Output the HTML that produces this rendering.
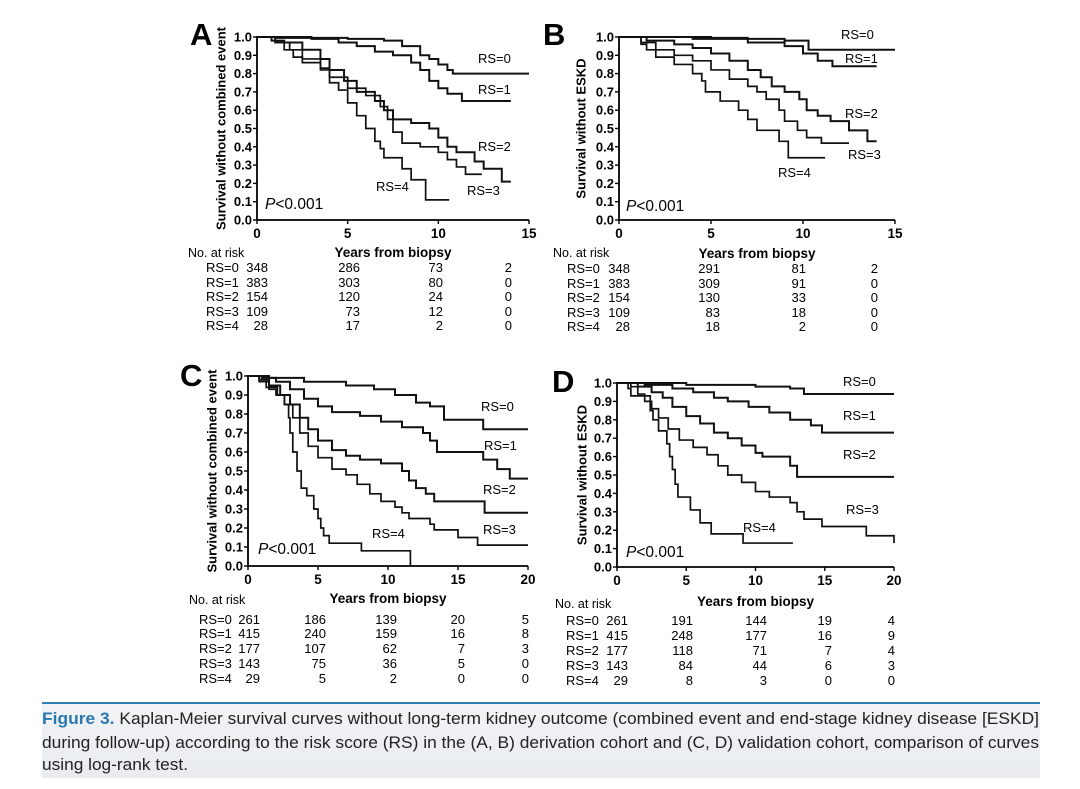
<!DOCTYPE html>
<html><head><meta charset="utf-8"><style>
body{margin:0;background:#fff;width:1080px;height:789px;overflow:hidden}
svg{display:block;font-family:"Liberation Sans",Arial,sans-serif}
</style></head><body>
<svg id="fig" width="1080" height="789" viewBox="0 0 1080 789">
<defs><linearGradient id="cg" x1="0" y1="0" x2="0" y2="1"><stop offset="0" stop-color="#f1f3f5"/><stop offset="1" stop-color="#e9ecef"/></linearGradient></defs>
<rect x="42" y="703" width="998" height="75" fill="url(#cg)"/>
<line x1="42" y1="703" x2="1040" y2="703" stroke="#2f7fb3" stroke-width="2"/>
<text x="42" y="724" font-size="16.5" fill="#222" textLength="997" lengthAdjust="spacingAndGlyphs"><tspan font-weight="bold" fill="#2a78b0">Figure 3.</tspan> Kaplan-Meier survival curves without long-term kidney outcome (combined event and end-stage kidney disease [ESKD]</text>
<text x="42" y="748" font-size="16.5" fill="#222" textLength="997" lengthAdjust="spacingAndGlyphs">during follow-up) according to the risk score (RS) in the (A, B) derivation cohort and (C, D) validation cohort, comparison of curves</text>
<text x="42" y="770" font-size="16.5" fill="#222" textLength="146" lengthAdjust="spacingAndGlyphs">using log-rank test.</text>
</svg>
<script>
// ---- data: step points [time, survival] per RS group ----
const yTicks = [0,0.1,0.2,0.3,0.4,0.5,0.6,0.7,0.8,0.9,1.0];
const xTicks15 = [0,5,10,15];
const xTicks20 = [0,5,10,15,20];
const groups = ["RS=0","RS=1","RS=2","RS=3","RS=4"];

const A_rs0 = [[0,1],[3,0.995],[5,0.99],[7,0.98],[8,0.95],[9,0.9],[9.5,0.88],[10,0.85],[10.5,0.82],[10.8,0.8],[15,0.8]];
const A_rs1 = [[0,1],[1,0.995],[3,0.99],[4.5,0.97],[5.5,0.95],[6.5,0.92],[7.5,0.9],[8.5,0.86],[9,0.82],[9.5,0.76],[10,0.72],[10.5,0.69],[11.3,0.65],[14,0.65]];
const A_rs2 = [[0,1],[0.8,0.98],[1.5,0.97],[2.5,0.93],[3.5,0.88],[4,0.82],[4.8,0.76],[5.5,0.7],[6.5,0.65],[7,0.6],[7.5,0.55],[8.5,0.53],[9.5,0.5],[10,0.45],[10.5,0.4],[11,0.37],[12,0.32],[12.5,0.28],[13.5,0.21],[14,0.21]];
const A_rs3 = [[0,1],[1,0.97],[1.5,0.93],[2.5,0.88],[3.5,0.83],[4,0.78],[5,0.72],[6,0.68],[6.8,0.62],[7.2,0.55],[7.5,0.48],[8,0.42],[9,0.4],[10,0.37],[10.5,0.33],[11,0.29],[11.5,0.25],[12.4,0.25]];
const A_rs4 = [[0,1],[1,0.97],[1.8,0.93],[2,0.89],[2.5,0.86],[3.5,0.82],[4,0.75],[4.5,0.71],[5,0.64],[5.5,0.57],[6,0.5],[6.5,0.43],[6.8,0.39],[7,0.34],[8,0.28],[8.5,0.22],[9.3,0.11],[10.6,0.11]];

const B_rs0 = [[0,1],[5,0.995],[7,0.99],[9,0.98],[10.3,0.93],[15,0.93]];
const B_rs1 = [[0,1],[4,0.99],[7,0.97],[9,0.95],[10,0.91],[10.8,0.87],[11.6,0.84],[14,0.84]];
const B_rs2 = [[0,1],[1.5,0.98],[3,0.96],[4,0.94],[5,0.91],[6,0.87],[7,0.82],[7.7,0.78],[8.3,0.73],[9,0.7],[9.8,0.66],[10.2,0.6],[10.8,0.57],[11.5,0.54],[12.5,0.49],[13.5,0.43],[14,0.43]];
const B_rs3 = [[0,1],[1.2,0.97],[2,0.93],[3,0.9],[4,0.87],[5,0.82],[6,0.77],[7,0.73],[7.5,0.7],[8,0.66],[8.7,0.6],[9,0.54],[9.7,0.49],[10.2,0.45],[11,0.42],[12.5,0.42]];
const B_rs4 = [[0,1],[1.2,0.96],[1.5,0.93],[2,0.89],[3,0.85],[4,0.8],[4.5,0.76],[4.7,0.7],[5.5,0.65],[6.5,0.6],[7,0.55],[7.5,0.49],[8.7,0.43],[9.2,0.34],[11.2,0.34]];

const C_rs0 = [[0,1],[1.5,0.99],[4,0.97],[7,0.95],[9,0.93],[10.5,0.9],[12,0.86],[13,0.84],[14,0.77],[16.8,0.72],[20,0.72]];
const C_rs1 = [[0,1],[1,0.99],[2,0.97],[3,0.93],[4,0.88],[5,0.84],[6,0.81],[8,0.79],[9.5,0.76],[11,0.73],[12.5,0.7],[13,0.66],[13.5,0.6],[16.8,0.56],[17.8,0.51],[18.7,0.46],[20,0.46]];
const C_rs2 = [[0,1],[0.8,0.98],[1.5,0.95],[2.3,0.9],[3,0.85],[3.7,0.78],[4.3,0.72],[5,0.66],[6,0.61],[7,0.58],[8,0.56],[9.5,0.54],[11,0.5],[11.5,0.45],[12,0.41],[12.7,0.38],[13.3,0.34],[16.9,0.28],[20,0.28]];
const C_rs3 = [[0,1],[0.8,0.98],[1.3,0.94],[2.1,0.9],[2.6,0.85],[3.2,0.78],[3.7,0.7],[4.3,0.63],[5,0.57],[6,0.51],[7,0.48],[7.8,0.43],[8.7,0.38],[9.5,0.34],[10.5,0.31],[11,0.28],[11.5,0.25],[13,0.22],[13.3,0.19],[15,0.15],[16.4,0.11],[20,0.11]];
const C_rs4 = [[0,1],[0.8,0.97],[1.5,0.93],[2,0.9],[2.6,0.85],[2.9,0.78],[3,0.7],[3.2,0.6],[3.5,0.5],[3.8,0.41],[4.2,0.37],[4.7,0.3],[5,0.25],[5.2,0.2],[5.4,0.16],[5.8,0.12],[8.1,0.08],[11.6,0]];

const D_rs0 = [[0,1],[5,0.99],[10,0.98],[12.5,0.97],[13.5,0.94],[20,0.94]];
const D_rs1 = [[0,1],[2,0.99],[4,0.97],[5.5,0.95],[7,0.92],[8,0.9],[9.5,0.87],[11,0.84],[12.5,0.8],[14,0.77],[14.8,0.73],[20,0.73]];
const D_rs2 = [[0,1],[1.5,0.98],[2.5,0.95],[3.3,0.92],[4,0.87],[5,0.82],[6,0.78],[7,0.73],[8,0.7],[9,0.66],[10,0.62],[10.5,0.6],[12.5,0.55],[13,0.49],[20,0.49]];
const D_rs3 = [[0,1],[1,0.98],[1.5,0.94],[2,0.9],[2.5,0.86],[3,0.81],[3.7,0.75],[4.5,0.69],[5.5,0.65],[6.5,0.61],[7.3,0.55],[8,0.5],[9,0.46],[10,0.41],[11,0.38],[12.5,0.35],[13,0.3],[13.5,0.26],[14.8,0.22],[18,0.17],[20,0.13]];
const D_rs4 = [[0,1],[0.8,0.97],[1,0.93],[2.4,0.85],[2.6,0.8],[3,0.74],[3.6,0.67],[3.8,0.6],[4,0.53],[4.2,0.45],[4.4,0.38],[5.3,0.31],[6,0.24],[6.8,0.18],[9.1,0.13],[12.7,0.13]];

// at-risk tables
const A_risk = [[348,286,73,2],[383,303,80,0],[154,120,24,0],[109,73,12,0],[28,17,2,0]];
const B_risk = [[348,291,81,2],[383,309,91,0],[154,130,33,0],[109,83,18,0],[28,18,2,0]];
const C_risk = [[261,186,139,20,5],[415,240,159,16,8],[177,107,62,7,3],[143,75,36,5,0],[29,5,2,0,0]];
const D_risk = [[261,191,144,19,4],[415,248,177,16,9],[177,118,71,7,4],[143,84,44,6,3],[29,8,3,0,0]];

const panels = [
 {id:"a",letter:"A",lx:190,ly:45,x0:257,x1:529,xmax:15,xt:xTicks15,y0:220,y1:37,ytitle:"Survival without combined event",ytx:222,
  series:[A_rs0,A_rs1,A_rs2,A_rs3,A_rs4],labels:[[478,63],[478,94],[478,151],[467,195],[376,191]],p:[265,209],
  risk:A_risk,riskTitle:[188,257],xTitleY:257,rowY:[272,287,301,316,330],rsX:206,colX:[268,360,443,512]},
 {id:"b",letter:"B",lx:543,ly:45,x0:619,x1:895,xmax:15,xt:xTicks15,y0:220,y1:37,ytitle:"Survival without ESKD",ytx:582,
  series:[B_rs0,B_rs1,B_rs2,B_rs3,B_rs4],labels:[[841,39],[845,63],[845,118],[848,159],[778,177]],p:[626,211],
  risk:B_risk,riskTitle:[553,257],xTitleY:258,rowY:[273,288,302,317,331],rsX:567,colX:[630,720,806,878]},
 {id:"c",letter:"C",lx:180,ly:386,x0:248,x1:528,xmax:20,xt:xTicks20,y0:566,y1:376,ytitle:"Survival without combined event",ytx:213,
  series:[C_rs0,C_rs1,C_rs2,C_rs3,C_rs4],labels:[[481,411],[484,450],[483,494],[483,534],[372,538]],p:[258,554],
  risk:C_risk,riskTitle:[189,604],xTitleY:603,rowY:[624,638,653,668,683],rsX:199,colX:[260,326,397,465,529]},
 {id:"d",letter:"D",lx:552,ly:392,x0:617,x1:894,xmax:20,xt:xTicks20,y0:567,y1:383,ytitle:"Survival without ESKD",ytx:583,
  series:[D_rs0,D_rs1,D_rs2,D_rs3,D_rs4],labels:[[843,386],[843,420],[843,459],[846,514],[743,532]],p:[626,557],
  risk:D_risk,riskTitle:[555,608],xTitleY:606,rowY:[625,640,655,670,685],rsX:566,colX:[628,693,767,832,895]}
];

const NS="http://www.w3.org/2000/svg";
const svg=document.getElementById("fig");
function mk(tag,attrs,text){const e=document.createElementNS(NS,tag);for(const k in attrs)e.setAttribute(k,attrs[k]);if(text!==undefined)e.textContent=text;svg.appendChild(e);return e;}

panels.forEach(P=>{
  const sx=v=>P.x0+(P.x1-P.x0)*v/P.xmax;
  const sy=v=>P.y0+(P.y1-P.y0)*v;
  let e=mk("text",{x:P.lx,y:P.ly,"font-size":31,"font-weight":"bold"},P.letter);
  
  
  e=mk("line",{x1:P.x0,y1:P.y1-1,x2:P.x0,y2:P.y0,stroke:"#000","stroke-width":1.8});
  
  
  e=mk("line",{x1:P.x0,y1:P.y0,x2:P.x1,y2:P.y0,stroke:"#000","stroke-width":1.8});
  
  
  yTicks.forEach(t=>{
    const y=sy(t);
    e=mk("line",{x1:P.x0-4,y1:y,x2:P.x0,y2:y,stroke:"#000","stroke-width":1.4});
    
    
    e=mk("text",{x:P.x0-5,y:y+4.5,"font-size":13,"font-weight":"bold","text-anchor":"end"},t.toFixed(1));
    
    
  });
  P.xt.forEach(t=>{
    const x=sx(t);
    e=mk("line",{x1:x,y1:P.y0,x2:x,y2:P.y0+4,stroke:"#000","stroke-width":1.4});
    
    
    e=mk("text",{x:x,y:P.y0+18,"font-size":13.5,"font-weight":"bold","text-anchor":"middle"},String(t));
    
    
  });
  const cy=(P.y0+P.y1)/2;
  e=mk("text",{x:P.ytx,y:cy,"font-size":13,"font-weight":"bold","text-anchor":"middle",transform:`rotate(-90 ${P.ytx} ${cy})`,"dominant-baseline":"middle"},P.ytitle);
  
  
  e=mk("text",{x:(P.x0+P.x1)/2,y:P.xTitleY,"font-size":13.5,"font-weight":"bold","text-anchor":"middle"},"Years from biopsy");
  
  
  P.series.forEach((s,i)=>{
    let d=`M${sx(s[0][0])},${sy(s[0][1])}`;
    for(let k=1;k<s.length;k++){d+=` H${sx(s[k][0])} V${sy(s[k][1])}`;}
    e=mk("path",{d:d,fill:"none",stroke:"#111","stroke-width":i<3?2:1.7});
    
    
    e=mk("text",{x:P.labels[i][0],y:P.labels[i][1],"font-size":13},groups[i]);
    
    
  });
  e=mk("text",{x:P.p[0],y:P.p[1],"font-size":15.5});
  
  
  const ts=document.createElementNS(NS,"tspan");ts.setAttribute("font-style","italic");ts.textContent="P";e.appendChild(ts);
  e.appendChild(document.createTextNode("<0.001"));
  e=mk("text",{x:P.riskTitle[0],y:P.riskTitle[1],"font-size":12.5},"No. at risk");
  
  
  P.risk.forEach((row,r)=>{
    e=mk("text",{x:P.rsX,y:P.rowY[r],"font-size":13},groups[r]);
    
    
    row.forEach((v,c)=>{
      e=mk("text",{x:P.colX[c],y:P.rowY[r],"font-size":13,"text-anchor":"end"},String(v));
      
      
    });
  });
});
</script>
</body></html>
